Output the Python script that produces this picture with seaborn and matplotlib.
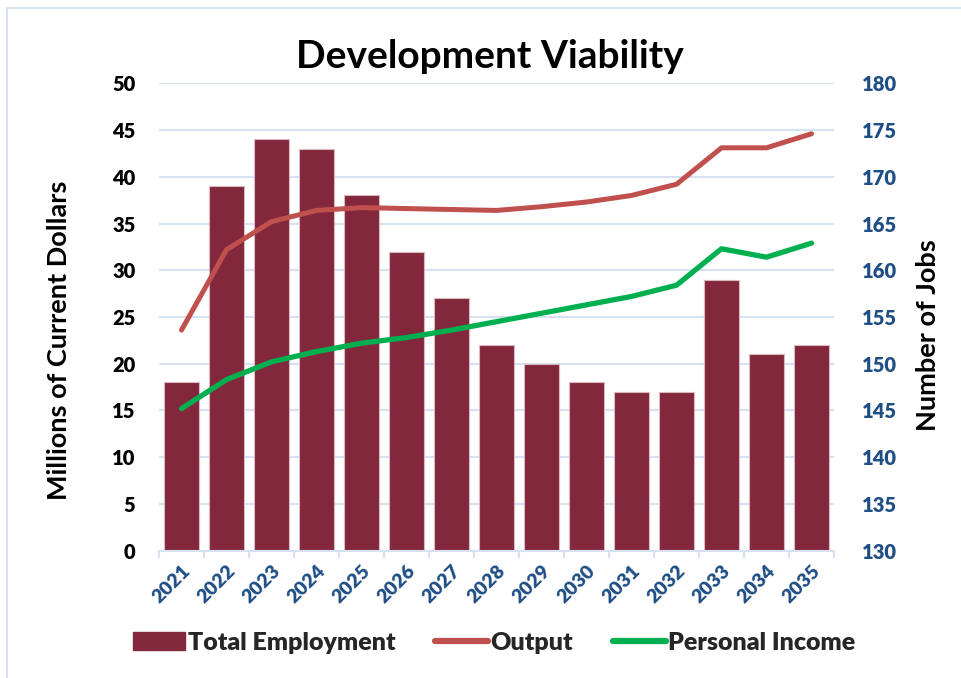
import numpy as np
import pandas as pd
import seaborn as sns
import matplotlib.pyplot as plt
from matplotlib.patches import Patch
from matplotlib.lines import Line2D

# Data
years = ["2021", "2022", "2023", "2024", "2025", "2026", "2027", "2028",
         "2029", "2030", "2031", "2032", "2033", "2034", "2035"]
total_employment = [148, 169, 174, 173, 168, 162, 157, 152, 150, 148, 147, 147, 159, 151, 152]
output = [23.6, 32.2, 35.2, 36.4, 36.7, 36.6, 36.5, 36.4, 36.8, 37.3, 38.0, 39.2, 43.1, 43.1, 44.6]
personal_income = [15.2, 18.3, 20.2, 21.3, 22.2, 22.8, 23.6, 24.5, 25.4, 26.3, 27.2, 28.4, 32.3, 31.4, 32.9]

bar_color = "#83283C"
output_color = "#C0504D"
income_color = "#00B050"
grid_color = "#D6E2F2"
blue_text = "#1F4E85"

sns.set_theme(style="white")
plt.rcParams['font.family'] = ['Lato', 'DejaVu Sans']
plt.rcParams['font.weight'] = 'bold'

df = pd.DataFrame({
    "year": years,
    "pos": np.arange(len(years)),
    "employment": total_employment,
    "output": output,
    "income": personal_income,
})

fig = plt.figure(figsize=(9.61, 6.78), dpi=100)
ax = fig.add_axes([159 / 961, 1 - 550.7 / 678, (834 - 159) / 961, (550.7 - 83.3) / 678])
ax2 = ax.twinx()

# bars on the jobs axis (drawn underneath)
sns.barplot(data=df, x="pos", y="employment", ax=ax2, color=bar_color, width=0.79,
            edgecolor="#D9B8C0", linewidth=0.8, saturation=1, native_scale=True)
ax2.set_ylim(130, 180)
ax2.set_yticks(np.arange(130, 181, 5))
ax2.set_ylabel("Number of Jobs", fontsize=19.5, fontweight="bold", color="black")
ax2.yaxis.set_label_coords(1.122, 0.462)
ax2.yaxis.grid(True, color=grid_color, linewidth=1.5)
ax2.set_axisbelow(True)
ax2.tick_params(axis="y", labelsize=14.5, labelcolor=blue_text, length=0, pad=20)

# lines on the dollars axis (drawn on top)
sns.lineplot(data=df, x="pos", y="output", ax=ax, color=output_color, linewidth=3.6,
             solid_capstyle="round")
sns.lineplot(data=df, x="pos", y="income", ax=ax, color=income_color, linewidth=3.8,
             solid_capstyle="round")
ax.set_zorder(ax2.get_zorder() + 1)
ax.patch.set_visible(False)
ax.set_ylim(0, 50)
ax.set_yticks(np.arange(0, 51, 5))
ax.set_ylabel("Millions of Current Dollars", fontsize=19.5, fontweight="bold", color="black")
ax.yaxis.set_label_coords(-0.131, 0.451)
ax.tick_params(axis="y", labelsize=14.5, labelcolor="black", length=0, pad=17)

ax.set_xlim(-0.5, len(years) - 0.5)
ax.set_xticks(df["pos"])
ax.set_xticklabels(years, rotation=45, ha="right", rotation_mode="anchor",
                   fontsize=14, color=blue_text)
ax.set_xticks(np.arange(-0.5, len(years), 1), minor=True)
ax.tick_params(axis="x", which="major", length=0, pad=8)
ax.tick_params(axis="x", which="minor", length=5, color=grid_color, width=1.5, direction="out",
               bottom=True)
ax.set_xlabel("")
ax2.set_xlabel("")

for lbl in ax.get_yticklabels() + ax2.get_yticklabels() + ax.get_xticklabels():
    lbl.set_fontweight("heavy")

for a in (ax, ax2):
    for side in ("top", "left", "right", "bottom"):
        a.spines[side].set_visible(False)
ax.spines["bottom"].set_visible(True)
ax.spines["bottom"].set_color(grid_color)
ax.spines["bottom"].set_linewidth(1.5)

fig.text(490 / 961, 1 - 57 / 678, "Development Viability", ha="center", va="center",
         fontsize=28, fontweight="bold", color="black")

handles = [
    Patch(facecolor=bar_color, edgecolor=bar_color),
    Line2D([0], [0], color=output_color, linewidth=4.5, solid_capstyle="round"),
    Line2D([0], [0], color=income_color, linewidth=4.5, solid_capstyle="round"),
]
fig.legend(handles, ["Total Employment", "Output", "Personal Income"], loc="center",
           bbox_to_anchor=(494 / 961, 1 - 643 / 678), ncol=3, frameon=False,
           prop={"size": 18, "weight": "heavy"}, handlelength=2.1, handleheight=0.75,
           handletextpad=0.1, columnspacing=1.6)

# light chart border (left and top only, as in the reference crop)
fig.add_artist(Line2D([7 / 961, 7 / 961], [0, 1 - 8 / 678], transform=fig.transFigure,
                      color=grid_color, linewidth=1.5))
fig.add_artist(Line2D([7 / 961, 1], [1 - 8 / 678, 1 - 8 / 678], transform=fig.transFigure,
                      color=grid_color, linewidth=1.5))

fig.savefig("out.png", dpi=100)
